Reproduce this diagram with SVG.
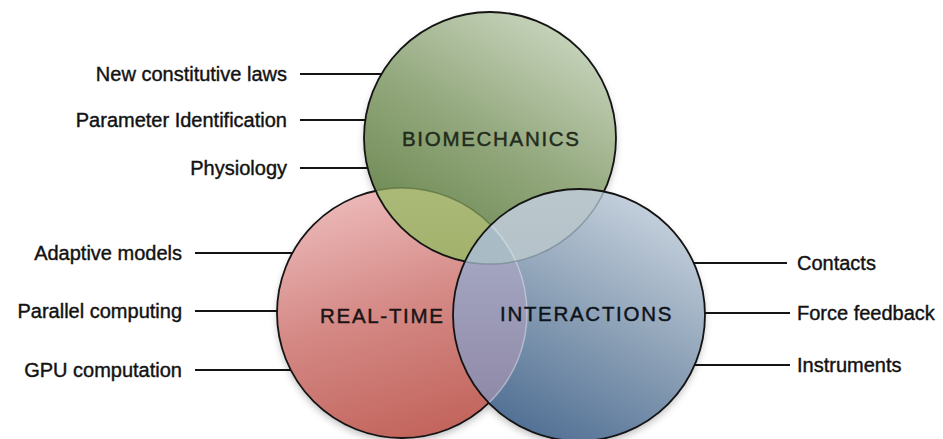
<svg xmlns="http://www.w3.org/2000/svg" width="943" height="439" viewBox="0 0 943 439">
  <defs>
    <style>
      .lbl { font-family: "Liberation Sans", Arial, sans-serif; font-size: 20px; fill: #121212; stroke: #121212; stroke-width: 0.4px; }
      .title { font-family: "Liberation Sans", Arial, sans-serif; font-size: 20.5px; letter-spacing: 1.7px; stroke-width: 0.45px; }
      .lead { stroke: #141414; stroke-width: 2; fill: none; }
      .rim { fill: none; stroke: #141414; stroke-width: 1.8; }
    </style>
    <linearGradient id="gGreen" x1="0.8" y1="0" x2="0.2" y2="1">
      <stop offset="0" stop-color="#ccd8c2"/>
      <stop offset="0.5" stop-color="#93a87d"/>
      <stop offset="1" stop-color="#66834a"/>
    </linearGradient>
    <linearGradient id="gRed" x1="0.3" y1="0" x2="0.6" y2="1">
      <stop offset="0" stop-color="#ecbaba"/>
      <stop offset="0.5" stop-color="#d48884"/>
      <stop offset="1" stop-color="#c2645c"/>
    </linearGradient>
    <linearGradient id="gBlue" x1="0.85" y1="0" x2="0.3" y2="1">
      <stop offset="0" stop-color="#ced8e3"/>
      <stop offset="0.5" stop-color="#8fa3b8"/>
      <stop offset="1" stop-color="#4f6e93"/>
    </linearGradient>
    <linearGradient id="gGR" x1="0" y1="0" x2="0" y2="1">
      <stop offset="0" stop-color="#bfcb92"/>
      <stop offset="1" stop-color="#a2b26c"/>
    </linearGradient>
    <linearGradient id="gBR" x1="0" y1="0" x2="0" y2="1">
      <stop offset="0" stop-color="#acb3cd"/>
      <stop offset="1" stop-color="#8b82a2"/>
    </linearGradient>
    <linearGradient id="gBG" x1="0" y1="0" x2="0" y2="1">
      <stop offset="0" stop-color="#bac7cd"/>
      <stop offset="1" stop-color="#a6b7bf"/>
    </linearGradient>
    <clipPath id="cRed"><circle cx="402" cy="313" r="125"/></clipPath>
    <clipPath id="cGreen"><circle cx="490" cy="138" r="126"/></clipPath>
    <clipPath id="cBlue"><circle cx="579" cy="315" r="126"/></clipPath>
    <filter id="soft" x="-20%" y="-20%" width="140%" height="140%">
      <feGaussianBlur stdDeviation="4"/>
    </filter>
  </defs>

  <rect width="943" height="439" fill="#ffffff"/>

  <!-- leader lines from the labels to the circles -->
  <g id="connectors">
    <line class="lead" x1="300" y1="74" x2="386" y2="74"/>
    <line class="lead" x1="300" y1="120" x2="370" y2="120"/>
    <line class="lead" x1="300" y1="168" x2="370" y2="168"/>
    <line class="lead" x1="195" y1="253" x2="295" y2="253"/>
    <line class="lead" x1="195" y1="311" x2="281" y2="311"/>
    <line class="lead" x1="195" y1="370" x2="294" y2="370"/>
    <line class="lead" x1="690" y1="263" x2="787" y2="263"/>
    <line class="lead" x1="702" y1="313" x2="790" y2="313"/>
    <line class="lead" x1="692" y1="365" x2="790" y2="365"/>
  </g>

  <!-- soft shadows under the circles -->
  <g id="shadows" filter="url(#soft)" fill="#000" opacity="0.3">
    <circle cx="402" cy="317" r="124"/>
    <circle cx="490" cy="142" r="125"/>
    <circle cx="579" cy="319" r="125"/>
  </g>

  <g id="real-time">
    <circle cx="402" cy="313" r="125" fill="url(#gRed)"/>
    <circle class="rim" cx="402" cy="313" r="125"/>
  </g>

  <g id="biomechanics">
    <circle cx="490" cy="138" r="126" fill="url(#gGreen)"/>
    <g clip-path="url(#cRed)">
      <circle cx="490" cy="138" r="126" fill="url(#gGR)"/>
    </g>
    <g clip-path="url(#cGreen)">
      <circle cx="402" cy="313" r="125" fill="none" stroke="#3d5226" stroke-opacity="0.45" stroke-width="1.5"/>
    </g>
    <circle class="rim" cx="490" cy="138" r="126"/>
  </g>

  <g id="interactions">
    <circle cx="579" cy="315" r="126" fill="url(#gBlue)"/>
    <g clip-path="url(#cRed)">
      <circle cx="579" cy="315" r="126" fill="url(#gBR)"/>
    </g>
    <g clip-path="url(#cGreen)">
      <circle cx="579" cy="315" r="126" fill="url(#gBG)"/>
      <g clip-path="url(#cRed)">
        <circle cx="579" cy="315" r="126" fill="#a9bcc6"/>
      </g>
    </g>
    <g clip-path="url(#cBlue)" fill="none" stroke-width="1.5">
      <circle cx="402" cy="313" r="125" stroke="#e8eef4" stroke-opacity="0.45"/>
      <circle cx="490" cy="138" r="126" stroke="#5a6e78" stroke-opacity="0.45"/>
    </g>
    <circle class="rim" cx="579" cy="315" r="126"/>
  </g>

  <!-- circle titles -->
  <g id="titles">
    <text class="title" x="402" y="146" fill="#222b1b" stroke="#222b1b">BIOMECHANICS</text>
    <text class="title" x="320" y="323" fill="#1a1414" stroke="#1a1414">REAL-TIME</text>
    <text class="title" x="500" y="321" fill="#0d131a" stroke="#0d131a">INTERACTIONS</text>
  </g>

  <!-- topic labels -->
  <g id="labels-biomechanics" class="lbl" text-anchor="end">
    <text x="287" y="81">New constitutive laws</text>
    <text x="287" y="127">Parameter Identification</text>
    <text x="287" y="175">Physiology</text>
  </g>
  <g id="labels-real-time" class="lbl" text-anchor="end">
    <text x="182" y="260">Adaptive models</text>
    <text x="182" y="318">Parallel computing</text>
    <text x="182" y="377">GPU computation</text>
  </g>
  <g id="labels-interactions" class="lbl">
    <text x="797" y="270">Contacts</text>
    <text x="797" y="320">Force feedback</text>
    <text x="797" y="372">Instruments</text>
  </g>
</svg>
